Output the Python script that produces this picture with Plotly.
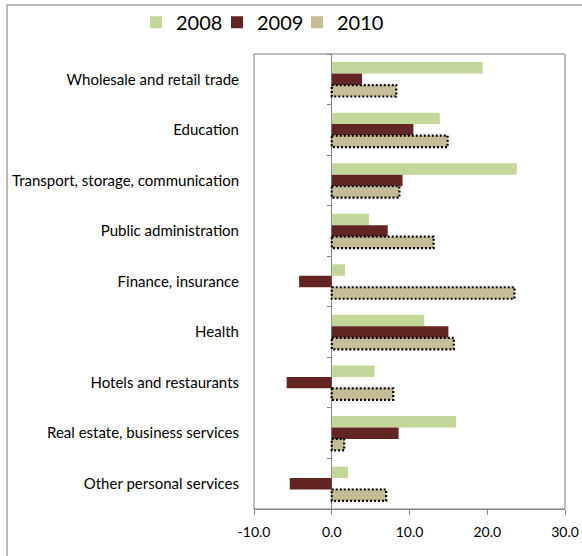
import plotly.graph_objects as go

# Employment change by sector, % (2008-2010)
sectors = [
    "Wholesale and retail trade",
    "Education",
    "Transport, storage, communication",
    "Public administration",
    "Finance, insurance",
    "Health",
    "Hotels and restaurants",
    "Real estate, business services",
    "Other personal services",
]
v2008 = [19.4, 13.9, 23.8, 4.8, 1.7, 11.9, 5.5, 16.0, 2.1]
v2009 = [3.9, 10.5, 9.1, 7.2, -4.2, 15.0, -5.8, 8.6, -5.4]
v2010 = [8.3, 14.9, 8.7, 13.1, 23.5, 15.7, 7.9, 1.6, 7.0]
x_ticks = [-10, 0, 10, 20, 30]

C2008 = "#C4D79B"
C2009 = "#632523"
C2010 = "#C4BD97"
FONT = "Lato"

# plot area in pixels (used to place the individual legend boxes)
PL, PR = 254, 565

idx = list(range(len(sectors)))
BW = 0.227          # bar thickness in category units
OFF = [-0.34, -0.113, 0.114]
LEG_LEFT = [136, 217, 297]   # left edge of each legend box, px

fig = go.Figure()
for k, (name, vals, col, off) in enumerate([("2008", v2008, C2008, OFF[0]),
                                            ("2009", v2009, C2009, OFF[1]),
                                            ("2010", v2010, C2010, OFF[2])]):
    fig.add_trace(go.Bar(
        name=name, x=vals, y=idx, orientation="h",
        offset=off, width=BW,
        marker=dict(color=col, line=dict(width=0)),
        hoverinfo="x+name",
        legend="legend" if k == 0 else f"legend{k + 1}",
    ))

# dotted outline around each 2010 bar
ox, oy = [], []
for i, v in zip(idx, v2010):
    y0, y1 = i + OFF[2], i + OFF[2] + BW
    ox += [0, v, v, 0, 0, None]
    oy += [y0, y0, y1, y1, y0, None]
fig.add_trace(go.Scatter(
    x=ox, y=oy, mode="lines", yaxis="y2",
    line=dict(color="black", width=2.2, dash="2px,2px"),
    showlegend=False, hoverinfo="skip",
))

def legend_box(px):
    return dict(
        orientation="h", x=(px - PL) / (PR - PL), xanchor="left",
        y=1.07, yanchor="middle", font=dict(size=20), itemwidth=30,
        bgcolor="rgba(0,0,0,0)",
    )

yrange = [len(sectors) - 0.5, -0.5]
fig.update_layout(
    width=582, height=556,
    margin=dict(l=PL, r=582 - PR, t=54, b=47, autoexpand=False),
    paper_bgcolor="white", plot_bgcolor="white",
    barmode="overlay",
    font=dict(family=FONT, size=15, color="black"),
    xaxis=dict(
        range=[-10, 30], tickvals=x_ticks,
        ticktext=[f"{t:.1f}" for t in x_ticks],
        showgrid=False, showline=True, linecolor="#868686", linewidth=1,
        ticks="outside", ticklen=5, tickcolor="#868686",
        zeroline=True, zerolinecolor="#868686", zerolinewidth=1,
        tickfont=dict(size=14), ticklabelstandoff=5,
        fixedrange=True, automargin=False,
    ),
    yaxis=dict(
        range=yrange, tickvals=idx, ticktext=sectors,
        showgrid=False, zeroline=False, showline=False,
        ticks="", ticklabelstandoff=14, tickfont=dict(size=15),
        fixedrange=True, automargin=False,
    ),
    yaxis2=dict(
        range=yrange, overlaying="y", anchor="free", position=0.25,
        tickvals=[i - 0.5 for i in range(len(sectors) + 1)],
        showticklabels=False, ticks="outside", ticklen=5,
        tickcolor="#868686", showgrid=False, zeroline=False,
        showline=False, fixedrange=True,
    ),
    legend=legend_box(LEG_LEFT[0]),
    legend2=legend_box(LEG_LEFT[1]),
    legend3=legend_box(LEG_LEFT[2]),
    shapes=[
        # plot-area frame
        dict(type="rect", xref="paper", yref="paper", x0=0, x1=1, y0=0, y1=1,
             line=dict(color="#7F7F7F", width=1), layer="above"),
        # outer chart frame
        dict(type="rect", xref="paper", yref="paper", x0=-0.794, x1=1.3,
             y0=-0.3, y1=1.1077, line=dict(color="#A6A6A6", width=1.5),
             layer="below"),
    ],
    showlegend=True,
)

fig.write_html("out.html")
